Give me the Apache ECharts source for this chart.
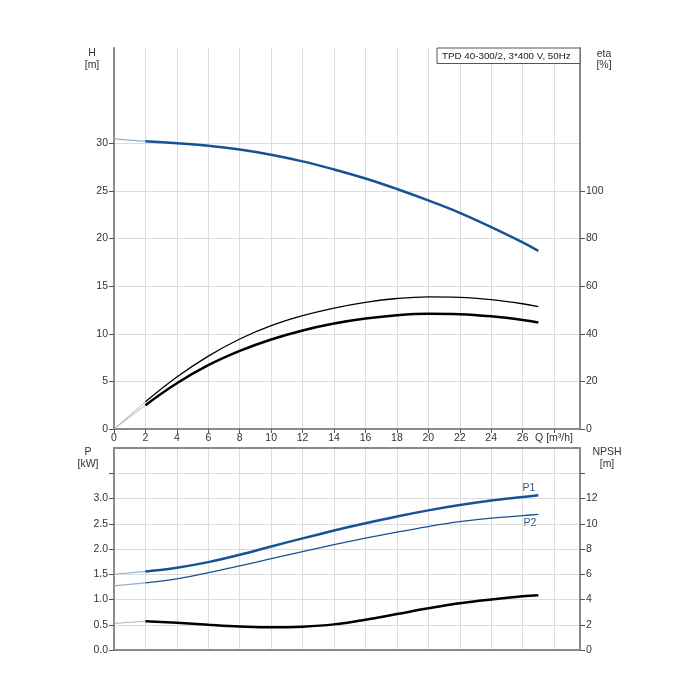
<!DOCTYPE html>
<html>
<head>
<meta charset="utf-8">
<script src="https://cdn.jsdelivr.net/npm/echarts@6/dist/echarts.min.js"></script>
<style>html,body{margin:0;padding:0;background:#fff}#c{width:700px;height:700px}</style>
</head>
<body>
<div id="c"></div>
<script>
// Flow values (m³/h) for main curves
const Q = [2, 4, 6, 8, 10, 12, 14, 16, 18, 20, 22, 24, 26, 27];
const H = [30.2, 30.0, 29.75, 29.35, 28.8, 28.1, 27.25, 26.3, 25.2, 24.0, 22.7, 21.2, 19.6, 18.7];
const etaUpper = [11.4, 21.8, 30.6, 37.8, 43.4, 47.6, 50.8, 53.2, 54.8, 55.5, 55.3, 54.3, 52.6, 51.4];
const etaLower = [10, 19.2, 26.8, 32.8, 37.6, 41.4, 44.3, 46.4, 47.8, 48.4, 48.2, 47.3, 45.8, 44.7];
const P1 = [1.555, 1.63, 1.74, 1.885, 2.05, 2.21, 2.365, 2.51, 2.645, 2.765, 2.87, 2.96, 3.03, 3.065];
const P2 = [1.33, 1.41, 1.53, 1.665, 1.81, 1.95, 2.085, 2.215, 2.335, 2.445, 2.54, 2.61, 2.66, 2.685];
const NPSH = [2.28, 2.15, 2.0, 1.87, 1.8, 1.85, 2.03, 2.4, 2.85, 3.3, 3.7, 4.0, 4.25, 4.33];
// Lead-in values at Q = 0
const Q0 = 0;
const H0 = 30.45;
const eta0 = 0;
const P1_0 = 1.5;
const P2_0 = 1.27;
const NPSH0 = 2.1;
const title = 'TPD 40-300/2, 3*400 V, 50Hz';
// Tick label values
const hTicks = [0, 5, 10, 15, 20, 25, 30];
const etaTicks = [0, 20, 40, 60, 80, 100];
const pTicks = [0, 0.5, 1.0, 1.5, 2.0, 2.5, 3.0];
const pTickMarks = [0, 0.5, 1.0, 1.5, 2.0, 2.5, 3.0, 3.5];
const npshTicks = [0, 2, 4, 6, 8, 10, 12];
const npshTickMarks = [0, 2, 4, 6, 8, 10, 12, 14];
const qTicks = [0, 2, 4, 6, 8, 10, 12, 14, 16, 18, 20, 22, 24, 26, 28];

const pairs = (xs, ys) => xs.map((x, i) => [x, ys[i]]);
const lead = (v0, arr) => [[Q0, v0], [Q[0], arr[0]]];

const blue = '#175394';
const axisCol = '#8a8a8a';
const gridCol = '#dcdcdc';
const txt = '#333';
const font = 'Liberation Sans, Arial, sans-serif';
const fs = 10.5;

const chart = echarts.init(document.getElementById('c'));

function xAx(gridIndex, labels, extra) {
  return Object.assign({
    type: 'value', gridIndex, min: 0, max: 29.65, interval: 2,
    axisLine: { show: true, onZero: false, lineStyle: { color: axisCol, width: 2 } },
    axisTick: { show: labels, length: 4, customValues: qTicks, lineStyle: { color: '#555' } },
    axisLabel: {
      show: labels, color: txt, fontSize: fs, fontFamily: font, margin: 4,
      customValues: qTicks,
      formatter: v => v === 28 ? 'Q [m³/h]' : String(v)
    },
    splitLine: { show: true, lineStyle: { color: gridCol, width: 1 } }
  }, extra || {});
}

function yAx(gridIndex, pos, min, max, interval, labelVals, tickVals, split, dec) {
  return {
    type: 'value', gridIndex, position: pos, min, max, interval,
    axisLine: { show: true, onZero: false, lineStyle: { color: axisCol, width: 2 } },
    axisTick: { show: true, length: 5, customValues: tickVals, lineStyle: { color: '#555' } },
    axisLabel: {
      color: txt, fontSize: fs, fontFamily: font, margin: 6,
      customValues: labelVals,
      formatter: v => dec ? v.toFixed(1) : String(v)
    },
    splitLine: { show: split, lineStyle: { color: gridCol, width: 1 } }
  };
}

function line(data, xi, yi, color, width, z) {
  return {
    type: 'line', data, xAxisIndex: xi, yAxisIndex: yi, smooth: 0.4,
    symbol: 'none', silent: true, z: z || 3,
    lineStyle: { color, width }
  };
}

const option = {
  animation: false,
  backgroundColor: '#fff',
  grid: [
    { left: 114, right: 120, top: 48, bottom: 271 },
    { left: 114, right: 120, top: 448, bottom: 50 }
  ],
  xAxis: [
    xAx(0, true),
    xAx(1, false),
    xAx(1, false, { position: 'top', splitLine: { show: false } })
  ],
  yAxis: [
    yAx(0, 'left', 0, 40, 5, hTicks, hTicks, true, false),
    yAx(0, 'right', 0, 160, 20, etaTicks, etaTicks, false, false),
    yAx(1, 'left', 0, 4, 0.5, pTicks, pTickMarks, true, true),
    yAx(1, 'right', 0, 16, 2, npshTicks, npshTickMarks, false, false)
  ],
  series: [
    line(lead(H0, H), 0, 0, '#8fb0d3', 1.2, 2),
    line(pairs(Q, H), 0, 0, blue, 2.5),
    line(lead(eta0, etaUpper), 0, 1, '#b0b0b0', 1, 2),
    line(lead(eta0, etaLower), 0, 1, '#b0b0b0', 1, 2),
    line(pairs(Q, etaUpper), 0, 1, '#000', 1.3),
    line(pairs(Q, etaLower), 0, 1, '#000', 2.5),
    line(lead(P1_0, P1), 1, 2, '#8fb0d3', 1.2, 2),
    line(lead(P2_0, P2), 1, 2, '#8fb0d3', 1.2, 2),
    line(lead(NPSH0, NPSH), 1, 3, '#b0b0b0', 1, 2),
    line(pairs(Q, P1), 1, 2, blue, 2.5),
    line(pairs(Q, P2), 1, 2, blue, 1.3),
    line(pairs(Q, NPSH), 1, 3, '#000', 2.5)
  ],
  graphic: [
    { type: 'rect', shape: { x: 437, y: 48, width: 143, height: 15.5 }, style: { fill: '#fff', stroke: '#555', lineWidth: 1 }, z: 10 },
    { type: 'text', x: 442, y: 56, style: { text: title, fill: '#222', fontSize: 9.8, fontFamily: font, verticalAlign: 'middle' }, z: 11 },
    { type: 'text', x: 92, y: 59, style: { text: 'H\n[m]', fill: '#333', fontSize: fs, fontFamily: font, align: 'center', verticalAlign: 'middle', lineHeight: 11.5 } },
    { type: 'text', x: 604, y: 59.5, style: { text: 'eta\n[%]', fill: '#333', fontSize: fs, fontFamily: font, align: 'center', verticalAlign: 'middle', lineHeight: 11.5 } },
    { type: 'text', x: 88, y: 458, style: { text: 'P\n[kW]', fill: '#333', fontSize: fs, fontFamily: font, align: 'center', verticalAlign: 'middle', lineHeight: 11.5 } },
    { type: 'text', x: 607, y: 458, style: { text: 'NPSH\n[m]', fill: '#333', fontSize: fs, fontFamily: font, align: 'center', verticalAlign: 'middle', lineHeight: 11.5 } },
    { type: 'text', x: 529, y: 488, style: { text: 'P1', fill: '#2f5a8a', fontSize: fs, fontFamily: font, align: 'center', verticalAlign: 'middle' } },
    { type: 'text', x: 530, y: 523, style: { text: 'P2', fill: '#2f5a8a', fontSize: fs, fontFamily: font, align: 'center', verticalAlign: 'middle' } }
  ]
};
chart.setOption(option);
</script>
</body>
</html>
